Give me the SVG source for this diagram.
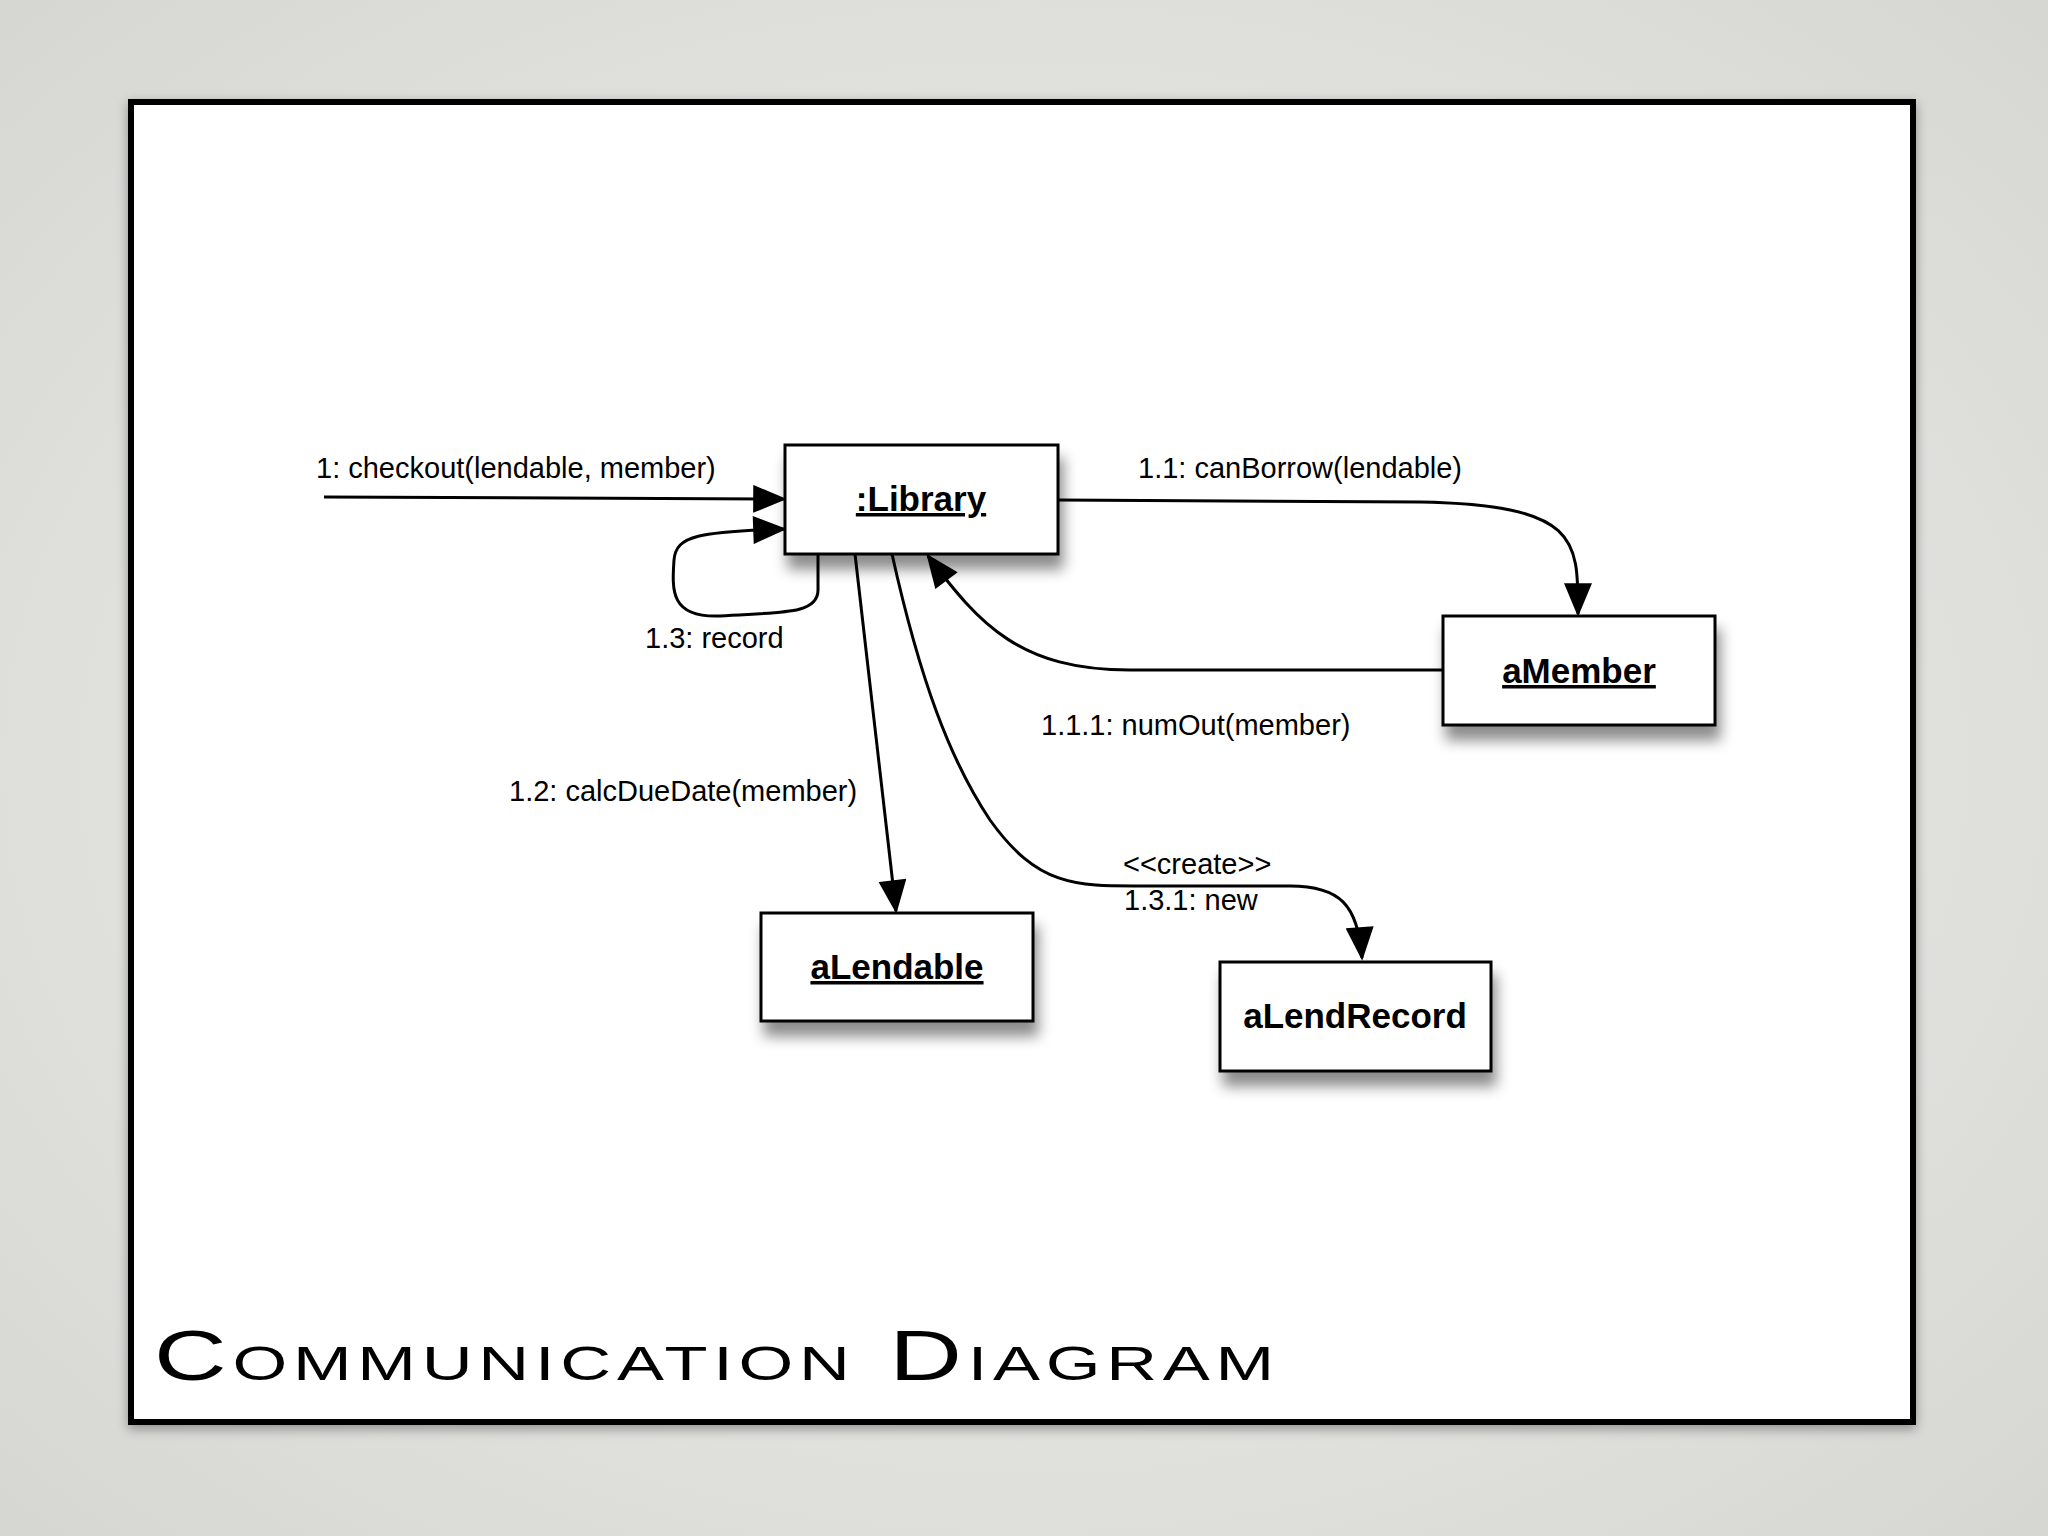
<svg xmlns="http://www.w3.org/2000/svg" width="2048" height="1536" viewBox="0 0 2048 1536">
<defs>
<radialGradient id="bg" cx="50%" cy="50%" r="70%"><stop offset="0" stop-color="#f2f2ef"/><stop offset="1" stop-color="#d6d6d2"/></radialGradient>
<filter id="sh" x="-20%" y="-20%" width="150%" height="170%"><feDropShadow dx="4" dy="14" stdDeviation="7" flood-color="#000" flood-opacity="0.45"/></filter>
<filter id="fs" x="-5%" y="-5%" width="110%" height="110%"><feDropShadow dx="0" dy="4" stdDeviation="6" flood-color="#000" flood-opacity="0.35"/></filter>
<marker id="ahb" viewBox="0 0 12 10" refX="11" refY="5" markerWidth="36" markerHeight="28" markerUnits="userSpaceOnUse" orient="auto"><path d="M0,0L12,5L0,10z" fill="#000"/></marker>
<style>
.box{fill:#fff;stroke:#000;stroke-width:3;filter:url(#sh)}
.nt{font-family:"Liberation Sans",Arial,sans-serif;font-weight:bold;font-size:35px;text-anchor:middle}
.u{text-decoration:underline}
.lb{font-family:"Liberation Sans",Arial,sans-serif;font-size:29px}
.c{fill:none;stroke:#000;stroke-width:3;marker-end:url(#ahb)}
</style>
</defs>
<rect width="2048" height="1536" fill="url(#bg)"/>
<rect x="131" y="102" width="1782" height="1320" fill="#fff" stroke="#000" stroke-width="6" filter="url(#fs)"/>
<text x="154" y="1380" font-family="Liberation Sans,sans-serif" font-size="70" font-variant="small-caps" letter-spacing="4" textLength="1126" lengthAdjust="spacingAndGlyphs">Communication Diagram</text>
<g id="connectors">
<path class="c" d="M324,497 L784,499"/>
<path class="c" d="M818,554 L818,590 C818,615 780,612 720,616 C670,618 672,590 674,560 C676,535 700,532 784,529"/>
<path class="c" d="M1058,500 L1420,502 C1580,505 1578,540 1578,614"/>
<path class="c" d="M1443,670 L1130,670 C1020,670 980,625 928,556"/>
<path class="c" d="M855,554 L896,911"/>
<path class="c" d="M892,554 C920,680 950,760 990,820 C1040,890 1080,886 1150,886 L1290,886 C1340,886 1358,905 1362,958"/>
</g>
<g id="labels">
<text class="lb" x="316" y="478">1: checkout(lendable, member)</text>
<text class="lb" x="645" y="648">1.3: record</text>
<text class="lb" x="1138" y="478">1.1: canBorrow(lendable)</text>
<text class="lb" x="1041" y="735">1.1.1: numOut(member)</text>
<text class="lb" x="509" y="801">1.2: calcDueDate(member)</text>
<text class="lb" x="1123" y="874">&lt;&lt;create&gt;&gt;</text>
<text class="lb" x="1124" y="910">1.3.1: new</text>
</g>
<g id="library"><rect class="box" x="785" y="445" width="273" height="109"/><text class="nt u" x="921" y="511">:Library</text></g>
<g id="aMember"><rect class="box" x="1443" y="616" width="272" height="109"/><text class="nt u" x="1579" y="683">aMember</text></g>
<g id="aLendable"><rect class="box" x="761" y="913" width="272" height="108"/><text class="nt u" x="897" y="979">aLendable</text></g>
<g id="aLendRecord"><rect class="box" x="1220" y="962" width="271" height="109"/><text class="nt" x="1355" y="1028">aLendRecord</text></g>
</svg>
